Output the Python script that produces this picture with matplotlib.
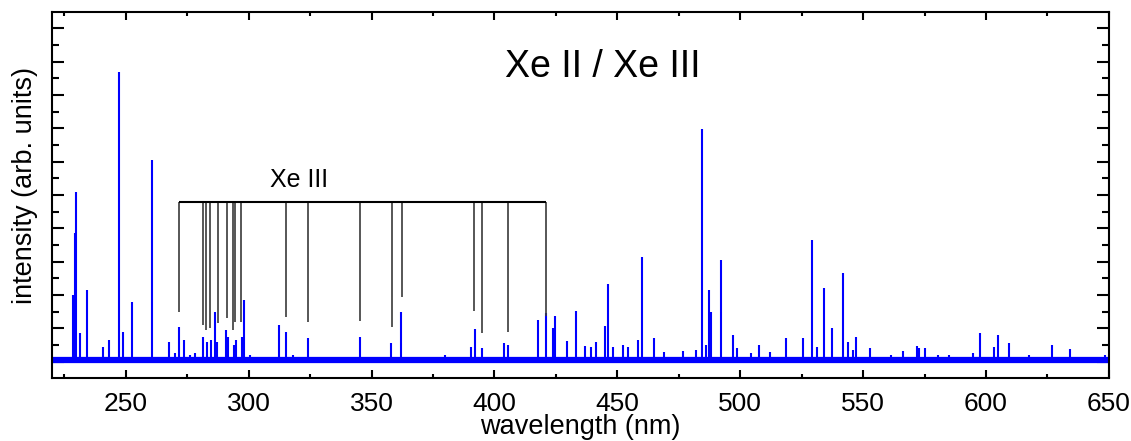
import matplotlib.pyplot as plt
from matplotlib.ticker import MultipleLocator

plt.rcParams['font.family'] = ['Liberation Sans', 'DejaVu Sans']

# emission lines: wavelength (nm) and peak intensity (arb. units)
line_wl = [228.6, 229.3, 229.9, 231.5, 234.4, 240.8, 243.2, 247.4, 248.9, 252.6,
           260.65, 267.4, 270.0, 271.6, 273.5, 276.0, 278.0, 281.5, 282.9, 284.5,
           286.3, 287.2, 290.7, 291.5, 294.1, 294.8, 297.1, 297.9, 300.5, 312.2,
           315.0, 318.0, 324.2, 330.0, 345.5, 357.8, 362.0, 380.0, 390.6, 392.1,
           394.9, 403.8, 405.5, 417.9, 420.8, 423.8, 424.5, 429.5, 433.0, 436.9,
           439.4, 441.4, 444.8, 446.3, 448.2, 452.5, 454.3, 458.3, 460.2, 465.1,
           468.8, 476.6, 481.8, 484.5, 485.9, 487.3, 488.2, 492.2, 497.0, 498.7,
           504.4, 507.8, 512.2, 518.7, 525.7, 529.0, 531.2, 533.9, 537.2, 541.7,
           543.7, 545.9, 547.0, 552.7, 561.3, 566.3, 571.8, 572.6, 575.3, 580.3,
           585.0, 594.5, 597.5, 603.3, 605.0, 609.4, 617.6, 626.8, 634.1, 641.9,
           648.4]
line_int = [2.0, 3.85, 5.1, 0.86, 2.15, 0.44, 0.65, 8.7, 0.9, 1.8,
            6.05, 0.6, 0.25, 1.05, 0.65, 0.2, 0.25, 0.75, 0.6, 0.65,
            1.5, 0.6, 0.95, 0.75, 0.5, 0.65, 0.75, 1.85, 0.2, 1.1,
            0.9, 0.2, 0.7, 0.15, 0.75, 0.55, 1.48, 0.2, 0.43, 0.98,
            0.4, 0.55, 0.5, 1.25, 1.45, 1.0, 1.37, 0.63, 1.53, 0.47,
            0.45, 0.6, 1.07, 2.32, 0.43, 0.5, 0.45, 0.65, 3.13, 0.7,
            0.3, 0.33, 0.35, 6.97, 0.5, 2.15, 1.5, 3.05, 0.8, 0.4,
            0.25, 0.5, 0.3, 0.7, 0.72, 3.65, 0.45, 2.2, 1.0, 2.65,
            0.6, 0.35, 0.75, 0.4, 0.2, 0.33, 0.47, 0.4, 0.4, 0.2,
            0.2, 0.27, 0.87, 0.45, 0.8, 0.55, 0.2, 0.5, 0.37, 0.15,
            0.2]
baseline = 0.06

# Xe III line identifications: position and lower end of each marker
xe3_wl = [271.7, 281.3, 282.5, 284.3, 287.6, 291.3, 293.7, 294.5, 296.7,
          315.1, 324.2, 345.3, 358.2, 362.3, 391.7, 394.8, 405.5, 421.1]
xe3_bottom = [1.5, 1.1, 0.95, 1.0, 1.15, 1.3, 0.95, 1.2, 1.2,
              1.33, 1.2, 1.23, 1.05, 1.95, 1.53, 0.85, 0.9, 1.37]
xe3_bar = 4.8

fig = plt.figure(figsize=(11.31, 4.41), dpi=100)
ax = fig.add_axes([0.046, 0.1429, 0.9345, 0.8299])

ax.plot([220, 650], [baseline, baseline], color='#0000ff', lw=4.5,
        solid_capstyle='butt', zorder=2)
ax.vlines(line_wl, baseline, line_int, color='#0000ff', lw=1.5, zorder=3)

# marker comb for Xe III
ax.vlines(xe3_wl, xe3_bottom, xe3_bar, color='#3a3a3a', lw=1.2, zorder=4)
ax.plot([xe3_wl[0], xe3_wl[-1]], [xe3_bar, xe3_bar], color='black', lw=1.5,
        solid_capstyle='butt', zorder=5)
ax.text(320.4, 5.45, 'Xe III', fontsize=18, ha='center', va='center')
ax.text(444.2, 8.85, 'Xe II / Xe III', fontsize=27, ha='center', va='center')

ax.set_xlim(220, 650)
ax.set_ylim(-0.49, 10.49)
ax.xaxis.set_major_locator(MultipleLocator(50))
ax.xaxis.set_minor_locator(MultipleLocator(25))
ax.yaxis.set_major_locator(MultipleLocator(1))
ax.yaxis.set_minor_locator(MultipleLocator(0.5))
ax.tick_params(which='both', direction='in', top=True, right=True,
               width=1.5, labelsize=19, labelleft=False)
ax.tick_params(axis='x', which='major', length=6, pad=10)
ax.tick_params(axis='x', which='minor', length=3)
ax.tick_params(axis='y', which='major', length=8.5)
ax.tick_params(axis='y', which='minor', length=5)
for s in ax.spines.values():
    s.set_linewidth(1.5)

ax.set_xlabel('wavelength (nm)', fontsize=19.5)
ax.xaxis.set_label_coords(0.5, -0.098)
ax.set_ylabel('intensity (arb. units)', fontsize=19.5)
ax.yaxis.set_label_coords(-0.013, 0.525)

fig.savefig('out.png', dpi=100)
